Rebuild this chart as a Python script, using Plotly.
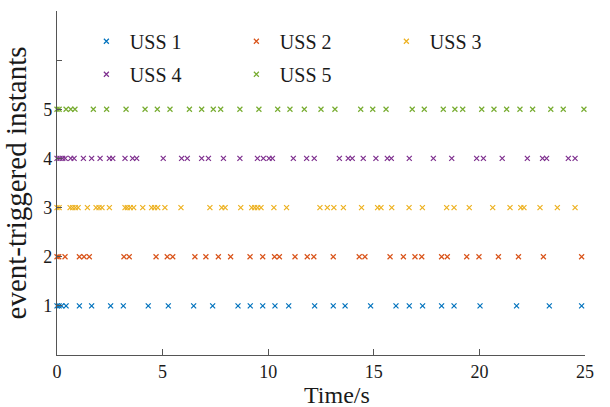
import plotly.graph_objects as go

# event instants (s) for each USS
uss1 = [0.0, 0.1, 0.22, 0.43, 1.06, 1.64, 2.54, 3.14, 4.32, 5.27, 6.47, 7.37, 8.57, 9.15, 9.74,
        10.32, 10.97, 12.2, 13.08, 13.64, 14.85, 16.05, 16.68, 17.31, 18.21, 18.80, 20.03,
        21.76, 23.31, 24.84]
uss2 = [0.0, 0.08, 0.38, 1.06, 1.28, 1.53, 3.17, 3.42, 4.69, 5.22, 5.48, 6.53, 7.05, 7.64, 8.22,
        9.14, 9.74, 10.30, 10.53, 11.27, 11.85, 12.16, 13.08, 14.31, 14.58, 15.77, 16.40,
        16.95, 17.27, 18.21, 18.48, 19.40, 19.98, 20.90, 21.85, 23.03, 24.84]
uss3 = [0.0, 0.1, 0.62, 0.74, 0.87, 1.0, 1.44, 1.85, 1.99, 2.13, 2.48, 3.22, 3.33, 3.47, 3.63,
        4.06, 4.48, 4.62, 4.77, 5.11, 5.87, 7.24, 7.80, 7.96, 8.70, 9.22, 9.36, 9.50, 9.66,
        10.27, 10.87, 12.45, 12.80, 13.11, 13.56, 14.42, 15.18, 15.34, 15.85, 16.67, 17.30,
        18.45, 18.80, 19.52, 20.63, 21.45, 21.96, 22.11, 22.87, 23.69, 24.53]
uss4 = [0.0, 0.14, 0.27, 0.39, 0.65, 0.81, 1.25, 1.64, 2.04, 2.48, 2.64, 3.22, 3.58, 3.77, 5.03,
        5.90, 6.17, 6.85, 7.17, 7.88, 8.66, 9.49, 9.77, 10.04, 10.20, 11.19, 11.82, 12.18,
        13.37, 13.79, 13.98, 14.50, 15.10, 15.64, 15.83, 16.68, 17.82, 18.69, 19.87, 20.19,
        21.08, 22.27, 22.99, 23.18, 24.21, 24.53]
uss5 = [0.0, 0.1, 0.43, 0.65, 0.85, 1.72, 2.35, 3.27, 4.17, 4.75, 5.35, 6.27, 6.85, 7.40, 7.75,
        8.66, 9.56, 10.45, 11.03, 11.71, 12.5, 13.16, 14.38, 14.95, 15.58, 16.82, 17.39, 18.29,
        18.84, 19.21, 20.11, 20.69, 21.29, 21.92, 22.52, 23.38, 23.97, 24.95]

names = ["USS 1", "USS 2", "USS 3", "USS 4", "USS 5"]
levels = [1, 2, 3, 4, 5]
series = [uss1, uss2, uss3, uss4, uss5]
colors = ["#0072BD", "#D95319", "#EDB120", "#7E2F8E", "#77AC30"]
x_ticks = [0, 5, 10, 15, 20, 25]
y_ticks = [1, 2, 3, 4, 5, 6, 7]
y_ticktext = ["1", "2", "3", "4", "5", "", ""]

FONT = "Liberation Serif"
TXT = "#1a1a1a"
AX = "#555555"

fig = go.Figure()
for i, (nm, lv, xs, c) in enumerate(zip(names, levels, series, colors)):
    fig.add_trace(go.Scatter(
        x=xs, y=[lv] * len(xs), mode="markers", name=nm,
        marker=dict(symbol="x-thin", size=5, color=c, line=dict(color=c, width=1.2)),
        cliponaxis=False,
        legend="legend" if i < 3 else "legend2",
    ))

legend_common = dict(orientation="h", xanchor="left", yanchor="middle",
                     entrywidth=98, entrywidthmode="pixels",
                     font=dict(family=FONT, size=20, color=TXT),
                     bgcolor="rgba(0,0,0,0)", itemwidth=37)

fig.update_layout(
    template="none",
    width=610, height=407,
    margin=dict(l=57, r=25, t=11, b=52),
    paper_bgcolor="white", plot_bgcolor="white",
    font=dict(family=FONT, size=17, color=TXT),
    showlegend=True,
    legend=dict(x=0.049, y=0.912, **legend_common),
    legend2=dict(x=0.049, y=0.816, **legend_common),
    xaxis=dict(range=[0, 25], tickvals=x_ticks, ticks="inside", ticklen=6, tickwidth=1,
               tickcolor=AX, showline=True, linecolor=AX, linewidth=1.2,
               showgrid=False, zeroline=False, mirror=False,
               tickfont=dict(family=FONT, size=18, color=TXT)),
    yaxis=dict(range=[0, 7], tickvals=y_ticks, ticktext=y_ticktext, ticks="inside",
               ticklen=5, tickwidth=1, tickcolor=AX, showline=True,
               linecolor=AX, linewidth=1.2, showgrid=False, zeroline=False,
               automargin=False,
               tickfont=dict(family=FONT, size=18, color=TXT),
               title=dict(text="event-triggered instants", standoff=10,
                          font=dict(family=FONT, size=29, color=TXT))),
    annotations=[dict(text="Time/s", x=0.53, y=0, xref="paper", yref="paper",
                      xanchor="center", yanchor="top", yshift=-25, showarrow=False,
                      font=dict(family=FONT, size=24, color=TXT))],
)

fig.write_html("out.html", config={"displayModeBar": False},
               post_script="document.body.style.margin='0';document.body.style.padding='0';")
